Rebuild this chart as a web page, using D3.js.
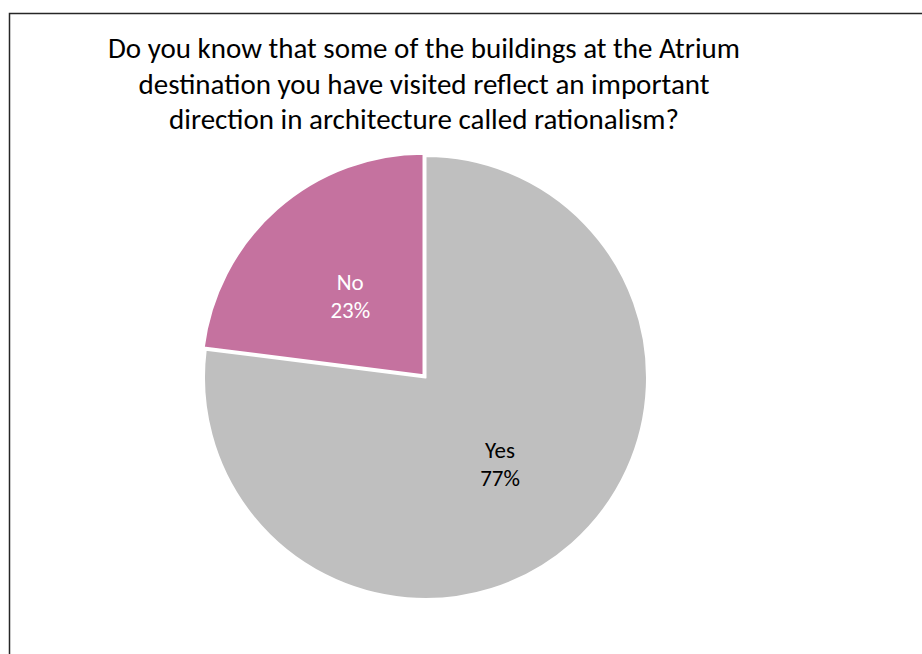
<!DOCTYPE html>
<html><head><meta charset="utf-8">
<script src="https://cdn.jsdelivr.net/npm/d3@7"></script>
<style>html,body{margin:0;padding:0;background:#fff;}svg{display:block;}</style>
</head><body>
<svg id="chart" width="922" height="654"></svg>
<script>
const categories = ["Yes", "No"];
const values = [77, 23];
const colors = ["#BFBFBF", "#C5729F"];
const labelColors = ["#000000", "#FFFFFF"];
const titleLines = [
  "Do you know that some of the buildings at the Atrium",
  "destination you have visited reflect an important",
  "direction in architecture called rationalism?"
];

const svg = d3.select("#chart");
svg.append("path").attr("d", "M9.5,654 L9.5,13.5 L922,13.5")
  .attr("fill", "none").attr("stroke", "#262626").attr("stroke-width", 1.5);

const font = "Carlito, Calibri, Lato, 'Liberation Sans', sans-serif";
svg.append("g").selectAll("text").data(titleLines).join("text")
  .attr("x", 424).attr("y", (d, i) => 58 + i * 35.5)
  .attr("text-anchor", "middle").attr("font-family", font)
  .attr("font-size", 29).attr("fill", "#000").text(d => d);

const cx = 425.5, cy = 377.5, R = 221.5;
const pie = d3.pie().sort(null).value(d => d.v);
const data = pie(categories.map((c, i) => ({c, v: values[i], i})));
const arc = d3.arc().innerRadius(0).outerRadius(R);
const explode = [0, 3];
const labelR = [0.514, 0.50];
const labelShift = [0.5, -1.4];

const g = svg.append("g").attr("transform", `translate(${cx},${cy})`);
data.forEach((d, k) => {
  const mid = (d.startAngle + d.endAngle) / 2;
  const ox = Math.sin(mid) * explode[k], oy = -Math.cos(mid) * explode[k];
  g.append("path").attr("d", arc(d)).attr("transform", `translate(${ox},${oy})`)
    .attr("fill", colors[k]).attr("stroke", "#fff").attr("stroke-width", 2)
    .attr("stroke-linejoin", "round");
});
data.forEach((d, k) => {
  const mid = (d.startAngle + d.endAngle) / 2 + labelShift[k] * Math.PI / 180;
  const lx = Math.sin(mid) * R * labelR[k], ly = -Math.cos(mid) * R * labelR[k];
  const t = g.append("text").attr("text-anchor", "middle").attr("font-family", font)
    .attr("font-size", 23).attr("fill", labelColors[k]);
  t.append("tspan").attr("x", lx).attr("y", ly - 6).text(d.data.c);
  t.append("tspan").attr("x", lx).attr("y", ly + 22).text(Math.round(d.data.v) + "%");
});
</script>
</body></html>
